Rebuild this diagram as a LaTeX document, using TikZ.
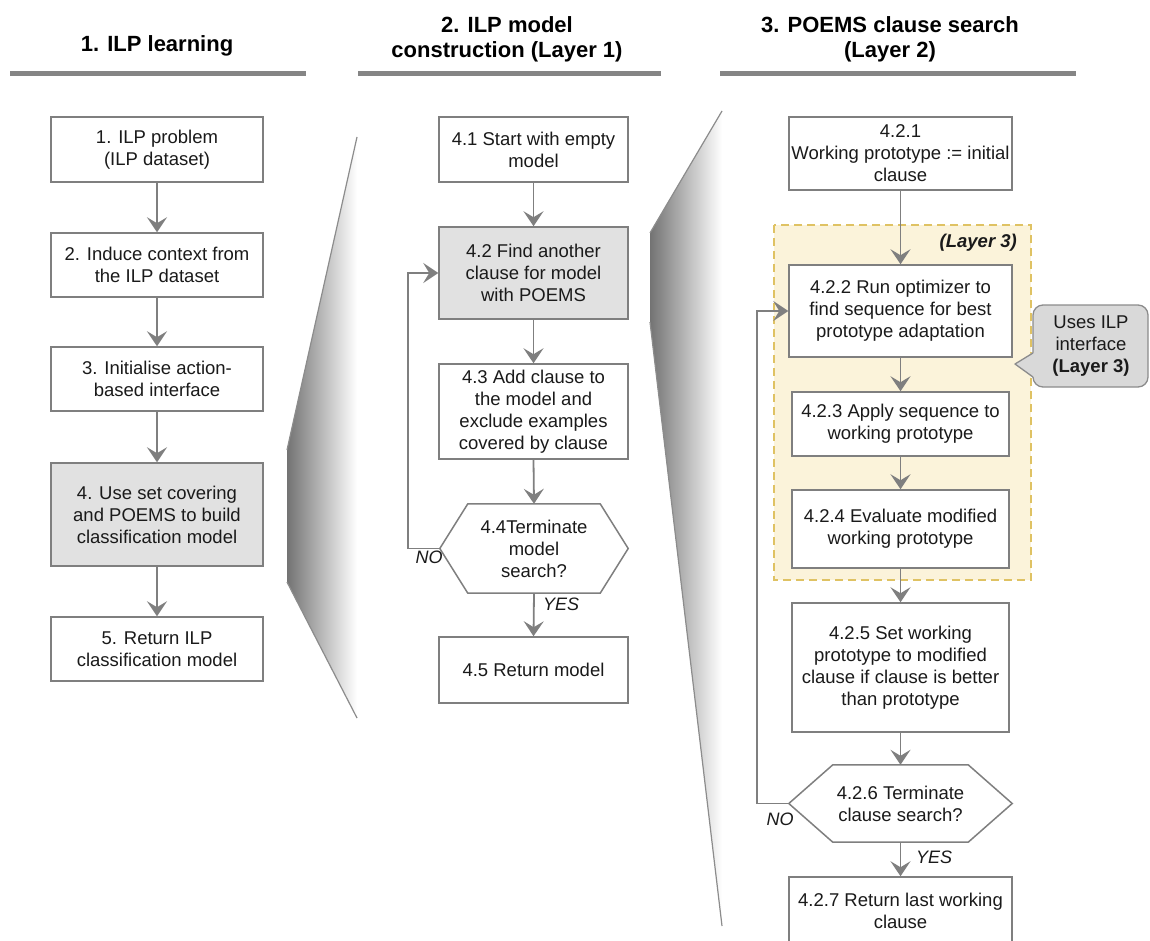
\documentclass[tikz,border=0pt]{standalone}
\usepackage{fontspec}
\setmainfont{Liberation Sans}
\usetikzlibrary{arrows.meta}

\definecolor{edge}{HTML}{7F7F7F}
\definecolor{barcol}{HTML}{858585}
\definecolor{boxgray}{HTML}{E1E1E1}
\definecolor{layerfill}{HTML}{FBF3DA}
\definecolor{layeredge}{HTML}{DFC263}
\definecolor{notefill}{HTML}{D9D9D9}
\definecolor{noteedge}{HTML}{8C8C8C}
\definecolor{ink}{HTML}{1A1A1A}
\definecolor{wedgedark}{HTML}{737373}

\begin{document}
\begin{tikzpicture}[x=1pt,y=-1pt,
  every node/.style={text=ink, font=\fontsize{18.5}{22}\selectfont, inner sep=0pt},
  stepbox/.style={draw=edge, line width=1.5pt, fill=white, align=center},
  grayfill/.style={fill=boxgray},
  hexbox/.style={align=center},
  hexline/.style={draw=edge, line width=1.5pt, fill=white},
  flow/.style={draw=edge, line width=1.8pt, -{Stealth[length=15pt,width=20pt,inset=6pt]}},
  title/.style={font=\fontsize{22}{25}\selectfont\bfseries, text=black, align=center},
  bar/.style={draw=barcol, line width=5pt},
  wedgeline/.style={draw=edge!90, line width=1.2pt},
  answer/.style={font=\fontsize{18}{20}\selectfont\itshape},
  layerbox/.style={fill=layerfill, draw=layeredge, line width=2.5pt, dash pattern=on 8pt off 5pt},
  notebody/.style={fill=notefill, draw=noteedge, line width=1.3pt}
]
\useasboundingbox (0,0) rectangle (1150,941);
\clip (0,0) rectangle (1150,941);

% ---- column headings ----
\node[title] (t1) at (157,46) {1. ILP learning};
\node[title] (t2) at (507,39) {2. ILP model\\construction (Layer 1)};
\node[title] (t3) at (890,39) {3. POEMS clause search\\(Layer 2)};
\draw[bar] (10,73.5) -- (306,73.5);
\draw[bar] (358,73.5) -- (661,73.5);
\draw[bar] (720,73.5) -- (1076,73.5);

% ---- zoom wedges ----
\shade[left color=wedgedark, right color=white]
  (357,137) -- (287,450) -- (287,582) -- (357,718) -- cycle;
\draw[wedgeline] (357,137) -- (287,450);
\draw[wedgeline] (287,582) -- (357,718);
\shade[left color=wedgedark, right color=white]
  (722,111) -- (650,233) -- (650,322) -- (722,926) -- cycle;
\draw[wedgeline] (722,111) -- (650,233);
\draw[wedgeline] (650,322) -- (722,926);

% ---- layer 3 region ----
\draw[layerbox] (774,225) rectangle (1031,580);
\node[font=\fontsize{18.5}{22}\selectfont\bfseries\itshape, anchor=east] (l3) at (1017,243) {(Layer 3)};

% ---- column 1 ----
\node[stepbox, minimum width=212pt, minimum height=65pt] (b1) at (157,149.5) {1. ILP problem\\(ILP dataset)};
\node[stepbox, minimum width=212pt, minimum height=64pt] (b2) at (157,265) {2. Induce context from\\the ILP dataset};
\node[stepbox, minimum width=212pt, minimum height=64pt] (b3) at (157,379) {3. Initialise action-\\based interface};
\node[stepbox, grayfill, minimum width=212pt, minimum height=103pt] (b4) at (157,514.5) {4. Use set covering\\and POEMS to build\\classification model};
\node[stepbox, minimum width=212pt, minimum height=64pt] (b5) at (157,649) {5. Return ILP\\classification model};
\draw[flow] (b1.south) -- (b2.north);
\draw[flow] (b2.south) -- (b3.north);
\draw[flow] (b3.south) -- (b4.north);
\draw[flow] (b4.south) -- (b5.north);

% ---- column 2 ----
\node[stepbox, minimum width=189pt, minimum height=65pt] (c1) at (533.5,149.5) {4.1 Start with empty\\model};
\node[stepbox, grayfill, minimum width=189pt, minimum height=92pt] (c2) at (533.5,273) {4.2 Find another\\clause for model\\with POEMS};
\node[stepbox, minimum width=189pt, minimum height=95pt] (c3) at (533.5,411.5) {4.3 Add clause to\\the model and\\exclude examples\\covered by clause};
\node[hexbox, minimum width=188pt, minimum height=89pt] (c4) at (534,548.5) {};
\draw[hexline] (c4.west) -- ([xshift=28pt]c4.north west) -- ([xshift=-28pt]c4.north east)
  -- (c4.east) -- ([xshift=-28pt]c4.south east) -- ([xshift=28pt]c4.south west) -- cycle;
\node[align=center] at (c4.center) {4.4Terminate\\model\\search?};
\node[stepbox, minimum width=189pt, minimum height=66pt] (c5) at (533.5,670) {4.5 Return model};
\draw[flow] (c1.south) -- (c2.north);
\draw[flow] (c2.south) -- (c3.north);
\draw[flow] (c3.south) -- (c4.north);
\draw[flow] (c4.south) -- (c5.north);
\draw[flow] (c4.west) -- ++(-32,0) |- (c2.west);
\node[answer] (no1) at (429,557) {NO};
\node[answer] (yes1) at (561,604) {YES};

% ---- column 3 ----
\node[stepbox, minimum width=223pt, minimum height=73pt] (d1) at (900.5,153.5) {4.2.1\\Working prototype := initial\\clause};
\node[stepbox, minimum width=223pt, minimum height=92pt] (d2) at (900.5,311) {4.2.2 Run optimizer to\\find sequence for best\\prototype adaptation};
\node[stepbox, minimum width=217pt, minimum height=64pt] (d3) at (900.5,424) {4.2.3 Apply sequence to\\working prototype};
\node[stepbox, minimum width=217pt, minimum height=78pt] (d4) at (900.5,529) {4.2.4 Evaluate modified\\working prototype};
\node[stepbox, minimum width=217pt, minimum height=129pt] (d5) at (900.5,667.5) {4.2.5 Set working\\prototype to modified\\clause if clause is better\\than prototype};
\node[hexbox, minimum width=223pt, minimum height=77pt] (d6) at (900.5,803.5) {};
\draw[hexline] (d6.west) -- ([xshift=44pt]d6.north west) -- ([xshift=-44pt]d6.north east)
  -- (d6.east) -- ([xshift=-44pt]d6.south east) -- ([xshift=44pt]d6.south west) -- cycle;
\node[align=center] at (d6.center) {4.2.6 Terminate\\clause search?};
\node[stepbox, minimum width=223pt, minimum height=68pt] (d7) at (900.5,911) {4.2.7 Return last working\\clause};
\draw[flow] (d1.south) -- (d2.north);
\draw[flow] (d2.south) -- (d3.north);
\draw[flow] (d3.south) -- (d4.north);
\draw[flow] (d4.south) -- (d5.north);
\draw[flow] (d5.south) -- (d6.north);
\draw[flow] (d6.south) -- (d7.north);
\draw[flow] (d6.west) -- ++(-32,0) |- (d2.west);
\node[answer] (no2) at (780,819) {NO};
\node[answer] (yes2) at (934,857) {YES};

% ---- callout ----
\fill[notefill] (1015,364) -- (1036,350) -- (1036,380) -- cycle;
\draw[notebody, rounded corners=10pt] (1033,305) rectangle (1148,387);
\fill[notefill] (1015,364) -- (1035,352) -- (1035,378) -- cycle;
\draw[draw=noteedge, line width=1.3pt, line join=round] (1033,353) -- (1015,364) -- (1033,377);
\node[align=center] (note) at (1091,346) {Uses ILP\\interface\\\textbf{(Layer 3)}};
\end{tikzpicture}
\end{document}
